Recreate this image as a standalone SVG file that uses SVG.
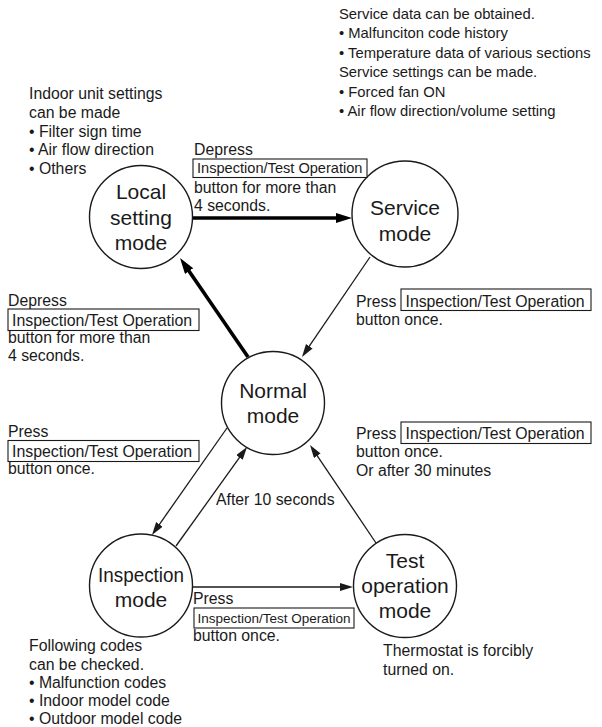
<svg xmlns="http://www.w3.org/2000/svg" width="602" height="727" viewBox="0 0 602 727">
<defs>
<style>
text{font-family:"Liberation Sans",Arial,Helvetica,sans-serif;fill:#1a1a1a}
.t{font-size:15.8px}
.tr{font-size:14.8px}
.n{font-size:21px;text-anchor:middle}
.node{fill:#fff;stroke:#1a1a1a;stroke-width:1.4}
.box{fill:#fff;stroke:#1a1a1a;stroke-width:1.1}
.thin{stroke:#1a1a1a;stroke-width:1.3;fill:none}
.thick{stroke:#000;stroke-width:3.6;fill:none}
</style>
<marker id="ah" markerUnits="userSpaceOnUse" markerWidth="14" markerHeight="9" refX="3" refY="4" orient="auto">
<path d="M0,0 L13,4 L0,8 z" fill="#1a1a1a"/>
</marker>
<marker id="ahb" markerUnits="userSpaceOnUse" markerWidth="17" markerHeight="11" refX="3" refY="5" orient="auto">
<path d="M0,0 L16,5 L0,10 z" fill="#000"/>
</marker>
</defs>
<rect width="602" height="727" fill="#fff"/>

<g id="connectors">
<line class="thick" x1="193" y1="218" x2="339" y2="218" marker-end="url(#ahb)"/>
<line class="thick" x1="248" y1="357" x2="187.4" y2="268.7" marker-end="url(#ahb)"/>
<line class="thin" x1="370" y1="257" x2="307.6" y2="348.7" marker-end="url(#ah)"/>
<line class="thin" x1="227" y1="428" x2="157.7" y2="526.8" marker-end="url(#ah)"/>
<line class="thin" x1="176" y1="546" x2="241.2" y2="455.1" marker-end="url(#ah)"/>
<line class="thin" x1="376" y1="543" x2="315.6" y2="453.3" marker-end="url(#ah)"/>
<line class="thin" x1="193" y1="587" x2="343" y2="587" marker-end="url(#ah)"/>
</g>

<g id="local">
<circle class="node" cx="141" cy="217" r="51.5"/>
<text class="n" x="141" y="199">Local</text>
<text class="n" x="141" y="224.5">setting</text>
<text class="n" x="141" y="250">mode</text>
</g>

<g id="service">
<circle class="node" cx="405" cy="214" r="53"/>
<text class="n" x="405" y="215">Service</text>
<text class="n" x="405" y="241">mode</text>
</g>

<g id="normal">
<circle class="node" cx="273" cy="403" r="51.5"/>
<text class="n" x="273" y="398">Normal</text>
<text class="n" x="273" y="423">mode</text>
</g>

<g id="inspection">
<circle class="node" cx="141" cy="585.5" r="51.5"/>
<text class="n" x="141" y="582" textLength="86" lengthAdjust="spacingAndGlyphs">Inspection</text>
<text class="n" x="141" y="607">mode</text>
</g>

<g id="test">
<circle class="node" cx="405" cy="586" r="51.5"/>
<text class="n" x="405" y="568">Test</text>
<text class="n" x="405" y="593">operation</text>
<text class="n" x="405" y="618">mode</text>
</g>

<g id="note-local">
<text class="t" x="29" y="99.3">Indoor unit settings</text>
<text class="t" x="29" y="118">can be made</text>
<text class="t" x="29" y="136.7">• Filter sign time</text>
<text class="t" x="29" y="155.4">• Air flow direction</text>
<text class="t" x="29" y="174">• Others</text>
</g>

<g id="note-service">
<text class="tr" x="339" y="18.5">Service data can be obtained.</text>
<text class="tr" x="339" y="38">• Malfunciton code history</text>
<text class="tr" x="339" y="57.5">• Temperature data of various sections</text>
<text class="tr" x="339" y="77">Service settings can be made.</text>
<text class="tr" x="339" y="96.5">• Forced fan ON</text>
<text class="tr" x="339" y="115.5">• Air flow direction/volume setting</text>
</g>

<g id="label-local-service">
<text class="t" x="194" y="155">Depress</text>
<rect class="box" x="193" y="159" width="174" height="18.5"/>
<text x="197" y="173" style="font-size:14.6px">Inspection/Test Operation</text>
<text class="t" x="194" y="193">button for more than</text>
<text class="t" x="194" y="211">4 seconds.</text>
</g>

<g id="label-normal-local">
<text class="t" x="8" y="305.5">Depress</text>
<rect class="box" x="8" y="309" width="191" height="21.5"/>
<text x="12" y="325.5" style="font-size:15.9px">Inspection/Test Operation</text>
<text class="t" x="8" y="342.5">button for more than</text>
<text class="t" x="8" y="361">4 seconds.</text>
</g>

<g id="label-service-normal">
<text class="t" x="356" y="306.7">Press</text>
<rect class="box" x="401" y="289" width="190" height="21.5"/>
<text x="405.5" y="306.7" style="font-size:15.8px">Inspection/Test Operation</text>
<text class="t" x="356" y="325">button once.</text>
</g>

<g id="label-normal-inspection">
<text class="t" x="8" y="437">Press</text>
<rect class="box" x="8" y="440.5" width="191" height="21"/>
<text x="12" y="457" style="font-size:15.9px">Inspection/Test Operation</text>
<text class="t" x="8" y="474">button once.</text>
</g>

<g id="label-test-normal">
<text class="t" x="356" y="439">Press</text>
<rect class="box" x="401" y="422" width="190" height="21.5"/>
<text x="405.5" y="439" style="font-size:15.8px">Inspection/Test Operation</text>
<text class="t" x="356" y="457">button once.</text>
<text class="t" x="356" y="475.5">Or after 30 minutes</text>
</g>

<g id="label-inspection-normal">
<text class="t" x="216" y="505">After 10 seconds</text>
</g>

<g id="label-inspection-test">
<text class="t" x="193" y="604">Press</text>
<rect class="box" x="194" y="608" width="160" height="20"/>
<text x="197.5" y="623.3" style="font-size:13.5px">Inspection/Test Operation</text>
<text class="t" x="193" y="641">button once.</text>
</g>

<g id="note-inspection">
<text class="t" x="29" y="651">Following codes</text>
<text class="t" x="29" y="669.5">can be checked.</text>
<text class="t" x="29" y="688">• Malfunction codes</text>
<text class="t" x="29" y="706">• Indoor model code</text>
<text class="t" x="29" y="724">• Outdoor model code</text>
</g>

<g id="note-test">
<text class="t" x="383" y="656">Thermostat is forcibly</text>
<text class="t" x="383" y="674.5">turned on.</text>
</g>
</svg>
